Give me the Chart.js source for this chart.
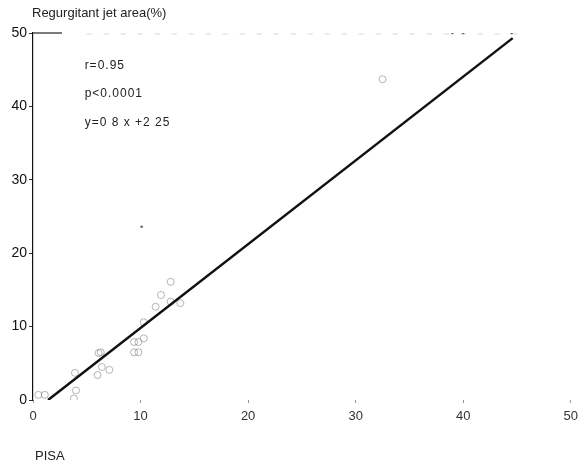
<!DOCTYPE html>
<html>
<head>
<meta charset="utf-8">
<script src="https://cdn.jsdelivr.net/npm/chart.js@4.4.0/dist/chart.umd.min.js"></script>
<style>
  html, body { margin: 0; padding: 0; background: #fff; }
  #wrap { width: 584px; height: 470px; }
</style>
</head>
<body>
<div id="wrap"><canvas id="grafico"></canvas></div>
<script>
// Datos
const tituloY = 'Regurgitant jet area(%)';
const tituloX = 'PISA';
const anotaciones = ['r=0.95', 'p<0.0001', 'y=0 8 x +2 25'];
const ticksX = [0, 10, 20, 30, 40, 50];
const ticksY = [0, 10, 20, 30, 40, 50];

// puntos circulares (PISA, area)
const circulosX = [0.5, 1.1, 3.8, 4.0, 3.9, 6.1, 6.3, 6.4, 7.1, 6.0, 9.4, 9.8, 10.3, 9.4, 9.8, 10.3, 11.4, 11.9, 12.8, 13.7, 12.8, 32.5];
const circulosY = [0.7, 0.7, 0.2, 1.3, 3.7, 6.4, 6.5, 4.5, 4.1, 3.4, 7.9, 7.9, 8.4, 6.5, 6.5, 10.6, 12.7, 14.3, 13.4, 13.2, 16.1, 43.7];
// puntos pequeños
const puntosX = [10.1, 39.0, 40.0, 44.5];
const puntosY = [23.6, 50, 50, 50];
// recta de regresion (extremos leidos)
const rectaX = [1.4, 44.6];
const rectaY = [0, 49.3];

const fuente = 'Liberation Sans, Arial, sans-serif';

function pares(xs, ys) {
    return xs.map((x, i) => ({ x: x, y: ys[i] }));
}

// textos y borde superior tenue
const textosPlugin = {
    id: 'textos',
    afterDraw(chart) {
        const ctx = chart.ctx;
        const area = chart.chartArea;
        const sx = chart.scales.x;
        const sy = chart.scales.y;
        ctx.save();
        // borde superior desvanecido
        ctx.strokeStyle = '#222';
        ctx.lineWidth = 1.2;
        ctx.beginPath();
        ctx.moveTo(area.left, area.top);
        ctx.lineTo(sx.getPixelForValue(2.7), area.top);
        ctx.stroke();
        ctx.strokeStyle = 'rgba(120,120,120,0.3)';
        ctx.setLineDash([5, 12]);
        ctx.beginPath();
        ctx.moveTo(sx.getPixelForValue(5), area.top + 1);
        ctx.lineTo(sx.getPixelForValue(45), area.top + 1);
        ctx.stroke();
        ctx.setLineDash([]);

        ctx.fillStyle = '#222';
        ctx.textBaseline = 'middle';
        ctx.textAlign = 'left';
        ctx.font = '13px ' + fuente;
        ctx.fillText(tituloY, area.left - 1, 13);
        ctx.fillText(tituloX, area.left + 2, 456);
        ctx.font = '12px ' + fuente;
        ctx.letterSpacing = '1px';
        const y0 = [45.5, 41.7, 37.8];
        anotaciones.forEach((t, i) => {
            ctx.fillText(t, sx.getPixelForValue(4.8), sy.getPixelForValue(y0[i]));
        });
        ctx.restore();
    }
};

new Chart(document.getElementById('grafico'), {
    type: 'scatter',
    data: {
        datasets: [
            {
                label: 'recta',
                type: 'line',
                data: pares(rectaX, rectaY),
                borderColor: '#111',
                borderWidth: 2.5,
                pointRadius: 0,
                fill: false
            },
            {
                label: 'circulos',
                data: pares(circulosX, circulosY),
                pointRadius: 3.5,
                pointBorderWidth: 1,
                pointBorderColor: 'rgba(110,110,110,0.5)',
                pointBackgroundColor: 'rgba(255,255,255,0)'
            },
            {
                label: 'puntos',
                data: pares(puntosX, puntosY),
                pointRadius: 1.3,
                pointBorderWidth: 0,
                pointBackgroundColor: 'rgba(60,60,60,0.8)'
            }
        ]
    },
    options: {
        responsive: true,
        maintainAspectRatio: false,
        animation: false,
        layout: { padding: { top: 33, right: 6, bottom: 0, left: 0 } },
        plugins: {
            legend: { display: false },
            tooltip: { enabled: false }
        },
        scales: {
            x: {
                type: 'linear',
                min: 0,
                max: 50,
                afterFit: s => { s.height = 70; },
                afterBuildTicks: s => { s.ticks = ticksX.map(v => ({ value: v })); },
                border: { display: false },
                grid: { drawOnChartArea: false, drawTicks: true, tickLength: 3, color: '#999' },
                ticks: { color: '#333', padding: 6, font: { family: fuente, size: 13 } }
            },
            y: {
                type: 'linear',
                min: 0,
                max: 50,
                afterFit: s => { s.width = 33; },
                afterBuildTicks: s => { s.ticks = ticksY.map(v => ({ value: v })); },
                border: { display: true, color: '#111', width: 1.2 },
                grid: { drawOnChartArea: false, drawTicks: true, tickLength: 4, color: '#333' },
                ticks: { color: '#111', padding: 2, font: { family: fuente, size: 14 } }
            }
        }
    },
    plugins: [textosPlugin]
});
</script>
</body>
</html>
